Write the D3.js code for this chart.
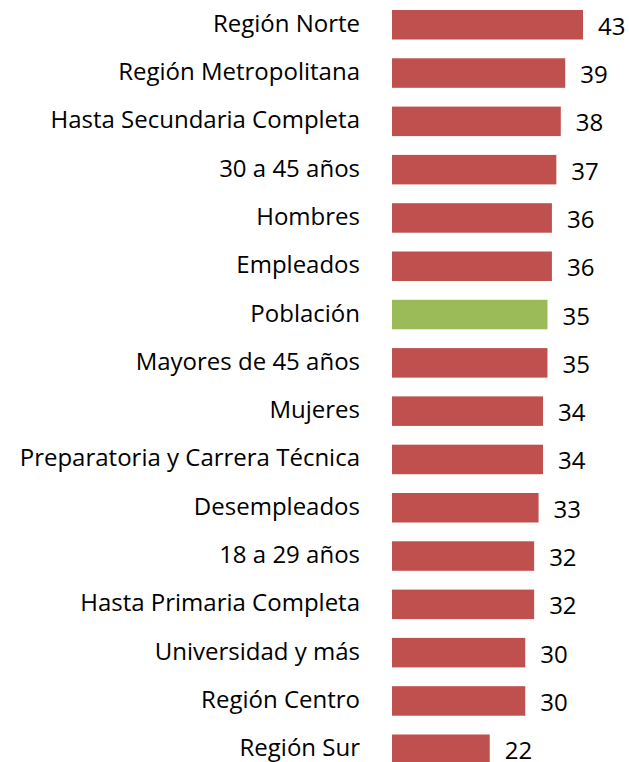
<!DOCTYPE html>
<html>
<head>
<meta charset="utf-8">
<script src="https://cdn.jsdelivr.net/npm/d3@7"></script>
<style>
  body { margin: 0; background: #fff; }
  .catText { font-family: "Open Sans", "Noto Sans", sans-serif; font-size: 24px; fill: #000; text-anchor: end; }
  .valText { font-family: "Open Sans", "Noto Sans", sans-serif; font-size: 24px; fill: #000; }
</style>
</head>
<body>
<div id="chart"></div>
<script>
// data
let categories = [
    "Región Norte", "Región Metropolitana", "Hasta Secundaria Completa", "30 a 45 años",
    "Hombres", "Empleados", "Población", "Mayores de 45 años", "Mujeres",
    "Preparatoria y Carrera Técnica", "Desempleados", "18 a 29 años",
    "Hasta Primaria Completa", "Universidad y más", "Región Centro", "Región Sur"
];
let values = [43, 39, 38, 37, 36, 36, 35, 35, 34, 34, 33, 32, 32, 30, 30, 22];
let highlight = "Población";

let svgWidth = 629;
let svgHeight = 762;

let svg = d3.select("#chart")
    .append("svg")
    .attr("width", svgWidth)
    .attr("height", svgHeight);

let data = categories.map((c, i) => ({ name: c, value: values[i] }));

//scales
let barLeft = 392;
let xScale = d3.scaleLinear()
    .domain([0, 43])
    .range([0, 191]);

let step = 48.3;
let yScale = d3.scaleBand()
    .domain(categories)
    .range([0.6, 0.6 + step * categories.length])
    .paddingInner(0.389)
    .paddingOuter(0.1945);

//bars
svg.selectAll("rect.bar")
    .data(data)
    .join("rect")
    .attr("class", "bar")
    .attr("x", barLeft)
    .attr("y", d => yScale(d.name))
    .attr("width", d => xScale(d.value))
    .attr("height", yScale.bandwidth())
    .attr("fill", d => d.name === highlight ? "#9BBB59" : "#C0504D");

//category labels
svg.selectAll("text.catText")
    .data(data)
    .join("text")
    .attr("class", "catText")
    .attr("x", 360)
    .attr("y", d => yScale(d.name) + yScale.bandwidth() / 2 + 7)
    .text(d => d.name);

//value labels
svg.selectAll("text.valText")
    .data(data)
    .join("text")
    .attr("class", "valText")
    .attr("x", d => barLeft + xScale(d.value) + 15)
    .attr("y", d => yScale(d.name) + yScale.bandwidth() / 2 + 10)
    .text(d => d.value);
</script>
</body>
</html>
